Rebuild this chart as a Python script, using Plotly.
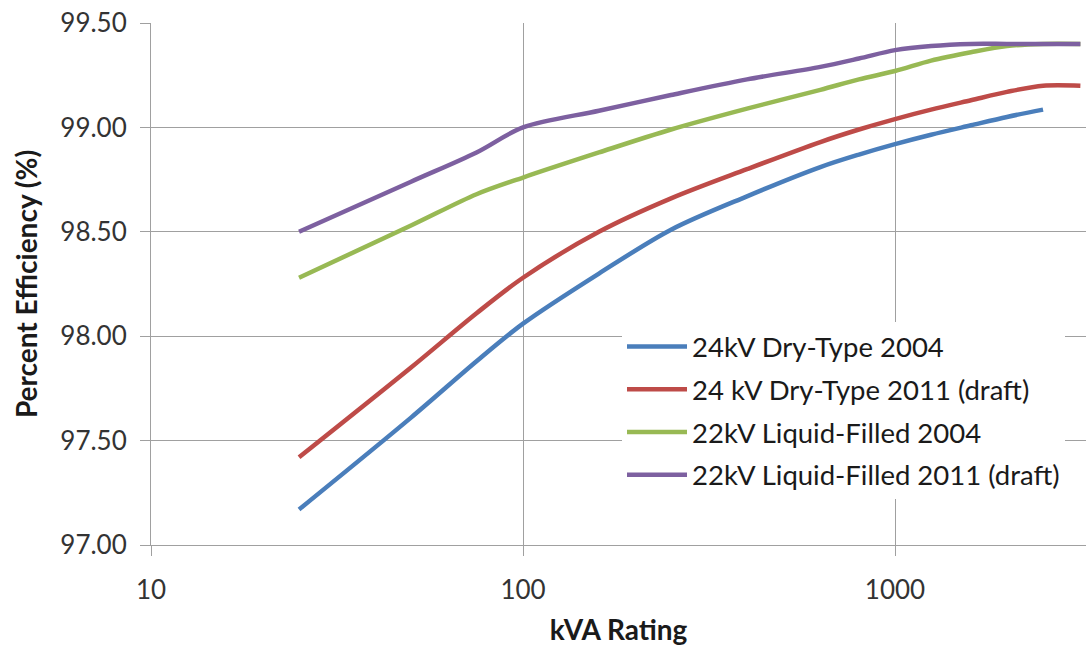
import plotly.graph_objects as go

# kVA ratings
kva_dry_2004 = [25, 50, 75, 100, 160, 250, 400, 630, 800, 1000, 1250, 1600, 2000, 2500]
kva_other = [25, 50, 75, 100, 160, 250, 400, 630, 800, 1000, 1250, 1600, 2000, 2500, 3150]

# Percent efficiency values
eff_dry_2004 = [97.17, 97.61, 97.88, 98.06, 98.30, 98.51, 98.67, 98.81, 98.87, 98.92, 98.965, 99.01, 99.05, 99.085]
eff_dry_2011 = [97.42, 97.85, 98.11, 98.28, 98.50, 98.66, 98.80, 98.93, 98.99, 99.04, 99.085, 99.13, 99.17, 99.20, 99.20]
eff_liq_2004 = [98.28, 98.53, 98.68, 98.76, 98.88, 98.99, 99.09, 99.18, 99.23, 99.27, 99.32, 99.36, 99.39, 99.40, 99.40]
eff_liq_2011 = [98.50, 98.74, 98.88, 99.00, 99.08, 99.155, 99.23, 99.29, 99.33, 99.37, 99.39, 99.40, 99.40, 99.40, 99.40]

series_names = ["24kV Dry-Type 2004", "24 kV Dry-Type 2011 (draft)",
                "22kV Liquid-Filled 2004", "22kV Liquid-Filled 2011 (draft)"]
series_colors = ["#4A7EBB", "#BE4B48", "#98B954", "#7D60A0"]

x_tick_vals = [10, 100, 1000]
x_tick_text = ["10", "100", "1000"]

FONT = "Lato"

fig = go.Figure()
data = [(kva_dry_2004, eff_dry_2004), (kva_other, eff_dry_2011),
        (kva_other, eff_liq_2004), (kva_other, eff_liq_2011)]
for i, ((xs, ys), name, col) in enumerate(zip(data, series_names, series_colors)):
    fig.add_trace(go.Scatter(
        x=xs, y=ys, mode="lines", name=name, legendgroup=f"g{i}",
        line=dict(color=col, width=4.5, shape="spline", smoothing=0.9),
    ))

grid = "#A0A0A0"
fig.update_layout(
    width=1086, height=646,
    margin=dict(l=151, r=0, t=23, b=101),
    paper_bgcolor="white", plot_bgcolor="white",
    font=dict(family=FONT, color="#262626"),
    showlegend=True,
    legend=dict(
        x=(622 - 151) / 935, y=(545 - 322) / 522, xanchor="left", yanchor="top",
        bgcolor="white", borderwidth=0, font=dict(size=27.5, family=FONT, color="#1a1a1a"),
        tracegroupgap=4, itemwidth=60,
    ),
    xaxis=dict(
        type="log", range=[1, 3.5134],
        tickvals=x_tick_vals, ticktext=x_tick_text,
        showgrid=True, gridcolor=grid, gridwidth=1,
        showline=True, linecolor=grid, linewidth=1,
        ticks="outside", ticklen=10, tickcolor=grid, tickwidth=1,
        tickfont=dict(size=26, family=FONT, color="#333333"),
        ticklabelstandoff=12,
        title=dict(text="<b>kVA Rating</b>", font=dict(size=28, family=FONT, color="#1a1a1a"), standoff=17),
        zeroline=False,
    ),
    yaxis=dict(
        range=[97, 99.5], dtick=0.5, tick0=97, tickformat=".2f",
        showgrid=True, gridcolor=grid, gridwidth=1,
        showline=True, linecolor=grid, linewidth=1,
        ticks="outside", ticklen=10, tickcolor=grid, tickwidth=1,
        tickfont=dict(size=26, family=FONT, color="#333333"),
        ticklabelstandoff=8,
        title=dict(text="<b>Percent Efficiency (%)</b>", font=dict(size=28, family=FONT, color="#1a1a1a"), standoff=14),
        zeroline=False,
    ),
)

fig.write_html("out.html")
